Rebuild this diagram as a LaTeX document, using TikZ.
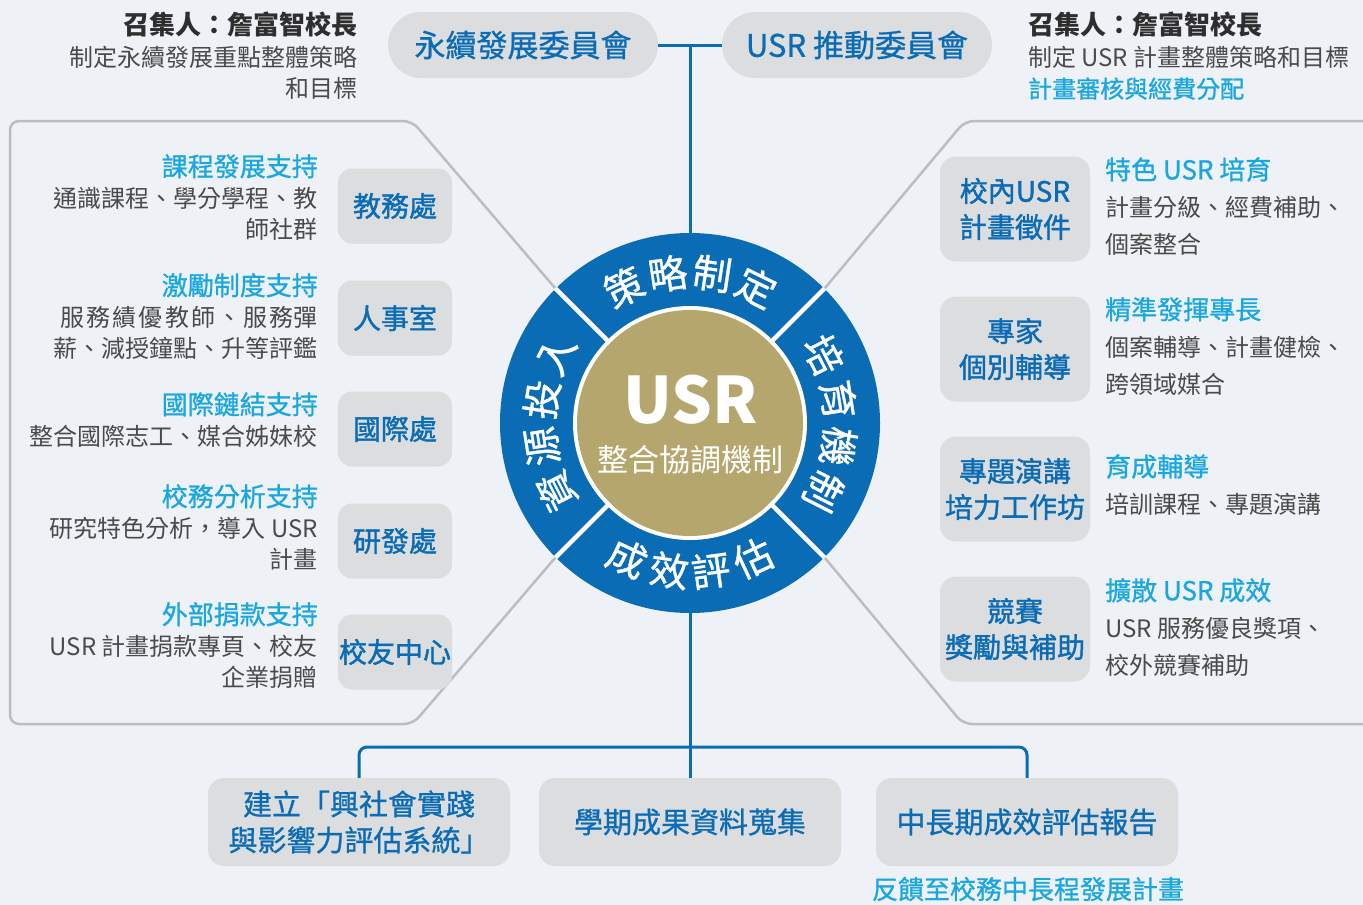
\documentclass[tikz,border=0pt]{standalone}
\usepackage{fontspec}
\setmainfont{Noto Sans CJK TC}
\newfontfamily\medfont[FakeBold=1.4]{Noto Sans CJK TC}
\newfontfamily\semifont[FakeBold=0.9]{Noto Sans CJK TC}
\definecolor{usrblue}{HTML}{0B6CB6}
\definecolor{usrcyan}{HTML}{19A7E2}
\definecolor{boxgray}{HTML}{DCDDDF}
\definecolor{bggray}{HTML}{EEF1F5}
\definecolor{linegray}{HTML}{BCBDC1}
\definecolor{textgray}{HTML}{4A4A4A}
\definecolor{darktext}{HTML}{2E2E2E}
\definecolor{usrgold}{HTML}{B5A66E}
\newcommand\usrtitle[1]{{\color{usrcyan}\semifont\fontsize{26}{26}\selectfont #1}}
\tikzset{
  pill/.style={fill=boxgray,rounded corners=33pt,minimum width=270pt,minimum height=66pt,inner sep=0pt,text=usrblue,font=\semifont\fontsize{31}{31}\selectfont},
  unit/.style={fill=boxgray,rounded corners=14pt,minimum width=114pt,minimum height=75pt,inner sep=0pt,text=usrblue,font=\medfont\fontsize{28}{28}\selectfont},
  tool/.style={fill=boxgray,rounded corners=16pt,minimum width=150pt,minimum height=105pt,inner sep=0pt,align=center,text=usrblue,font=\medfont\fontsize{28}{36}\selectfont},
  outcome/.style={fill=boxgray,rounded corners=16pt,minimum width=302pt,minimum height=88pt,inner sep=0pt,align=center,text=usrblue,font=\semifont\fontsize{29}{36}\selectfont},
  infoL/.style={anchor=north east,align=right,inner sep=0pt,text=textgray,font=\fontsize{24}{31}\selectfont},
  infoR/.style={anchor=north west,align=left,inner sep=0pt,text=textgray,font=\fontsize{24}{37}\selectfont},
  ringchar/.style={text=white,inner sep=0pt,font=\semifont\fontsize{39}{39}\selectfont},
  panel/.style={draw=linegray,line width=2.5pt,rounded corners=9pt},
  link/.style={draw=usrblue,line width=3pt}
}
\begin{document}
\begin{tikzpicture}[x=1pt,y=-1pt]
\fill[bggray] (0,0) rectangle (1363,905);
\useasboundingbox (0,0) rectangle (1363,905);
% side panels
\draw[panel] (555,288) -- (412,121) -- (10,121) -- (10,724) -- (413,724) -- (555,558);
\draw[panel] (825,288) -- (965,121) -- (1390,121);
\draw[panel] (825,558) -- (963,724) -- (1390,724);
% committees
\node[pill] (pillL) at (523,45) {永續發展委員會};
\node[pill] (pillR) at (857,45) {USR 推動委員會};
\node[infoL,font=\fontsize{24}{31.5}\selectfont] (headL) at (358,12) {{\color{darktext}\bfseries\fontsize{26}{26}\selectfont 召集人：詹富智校長}\\制定永續發展重點整體策略\\和目標};
\node[infoR,font=\fontsize{24}{31.5}\selectfont] (headR) at (1028,12) {{\color{darktext}\bfseries\fontsize{26}{26}\selectfont 召集人：詹富智校長}\\制定 USR 計畫整體策略和目標\\{\color{usrcyan}\semifont 計畫審核與經費分配}};
% ring
\node[circle,fill=usrblue,minimum size=380pt,inner sep=0pt] (ring) at (690,423) {};
\fill[white] (ring.center) circle (117pt);
\node[circle,fill=usrgold,minimum size=226pt,inner sep=0pt] (core) at (690,423) {};
\foreach \a in {45,135,225,315}
  \draw[white,line width=4.5pt] (core.\a) -- (ring.\a);
\node[text=white,inner sep=0pt,font=\bfseries\fontsize{64}{64}\selectfont] (usr) at (691,400) {USR};
\node[text=white,inner sep=0pt,font=\fontsize{31}{31}\selectfont] (mech) at (690,460) {整合協調機制};
\foreach \a/\zi [count=\i] in {116/策,98.5/略,81.5/制,64/定}
  \node[ringchar,rotate=\a-90] (plan\i) at ({690+151*cos(\a)},{423-151*sin(\a)}) {\zi};
\foreach \a/\zi [count=\i] in {27/培,9/育,-9/機,-27/制}
  \node[ringchar,rotate=\a-90] (grow\i) at ({690+150*cos(\a)},{423-150*sin(\a)}) {\zi};
\foreach \a/\zi [count=\i] in {-115/成,-98/效,-82/評,-65/估}
  \node[ringchar,rotate=\a+90] (eval\i) at ({690+149*cos(\a)},{423-149*sin(\a)}) {\zi};
\foreach \a/\zi [count=\i] in {207/資,189/源,171/投,153/入}
  \node[ringchar,rotate=\a-90] (res\i) at ({690+150*cos(\a)},{423-150*sin(\a)}) {\zi};
% top links
\coordinate (hub) at (690,45);
\draw[link] (pillL.east) -- (pillR.west);
\draw[link] (hub) -- (ring.north);
% left units
\node[unit] (acad) at (395,206) {教務處};
\node[unit] (hr) at (395,318) {人事室};
\node[unit] (intl) at (395,429) {國際處};
\node[unit] (rnd) at (395,541) {研發處};
\node[unit] (alum) at (395,652) {校友中心};
\node[infoL] (acadtxt) at (318,154) {\usrtitle{課程發展支持}\\通識課程、學分學程、教\\師社群};
\node[infoL] (hrtxt) at (318,273) {\usrtitle{激勵制度支持}\\{\addfontfeature{LetterSpace=9}服務績優教師、服務}彈\\薪、減授鐘點、升等評鑑};
\node[infoL] (intltxt) at (318,392) {\usrtitle{國際鏈結支持}\\整合國際志工、媒合姊妹校};
\node[infoL] (rndtxt) at (318,484) {\usrtitle{校務分析支持}\\研究特色分析，導入 USR\\計畫};
\node[infoL] (alumtxt) at (318,602) {\usrtitle{外部捐款支持}\\USR 計畫捐款專頁、校友\\企業捐贈};
% right tools
\node[tool] (call) at (1015,209) {校內USR\\計畫徵件};
\node[tool] (coach) at (1015,349) {專家\\個別輔導};
\node[tool] (talk) at (1015,489) {專題演講\\培力工作坊};
\node[tool] (award) at (1015,629) {競賽\\獎勵與補助};
\node[infoR] (calltxt) at (1105,157) {\usrtitle{特色 USR 培育}\\計畫分級、經費補助、\\個案整合};
\node[infoR] (coachtxt) at (1105,297) {\usrtitle{精準發揮專長}\\個案輔導、計畫健檢、\\跨領域媒合};
\node[infoR] (talktxt) at (1105,454) {\usrtitle{育成輔導}\\培訓課程、專題演講};
\node[infoR] (awardtxt) at (1105,578) {\usrtitle{擴散 USR 成效}\\USR 服務優良獎項、\\校外競賽補助};
% outcomes
\node[outcome] (outA) at (359,822) {建立「興社會實踐\\與影響力評估系統」};
\node[outcome] (outB) at (690,822) {學期成果資料蒐集};
\node[outcome] (outC) at (1027,822) {中長期成效評估報告};
\node[text=usrcyan,inner sep=0pt,font=\semifont\fontsize{26}{26}\selectfont] (feedback) at (1028,889) {反饋至校務中長程發展計畫};
\coordinate (bus) at (690,747);
\draw[link] (ring.south) -- (outB.north);
\draw[link,rounded corners=8pt] (outA.north) |- (bus) -| (outC.north);
\end{tikzpicture}
\end{document}
